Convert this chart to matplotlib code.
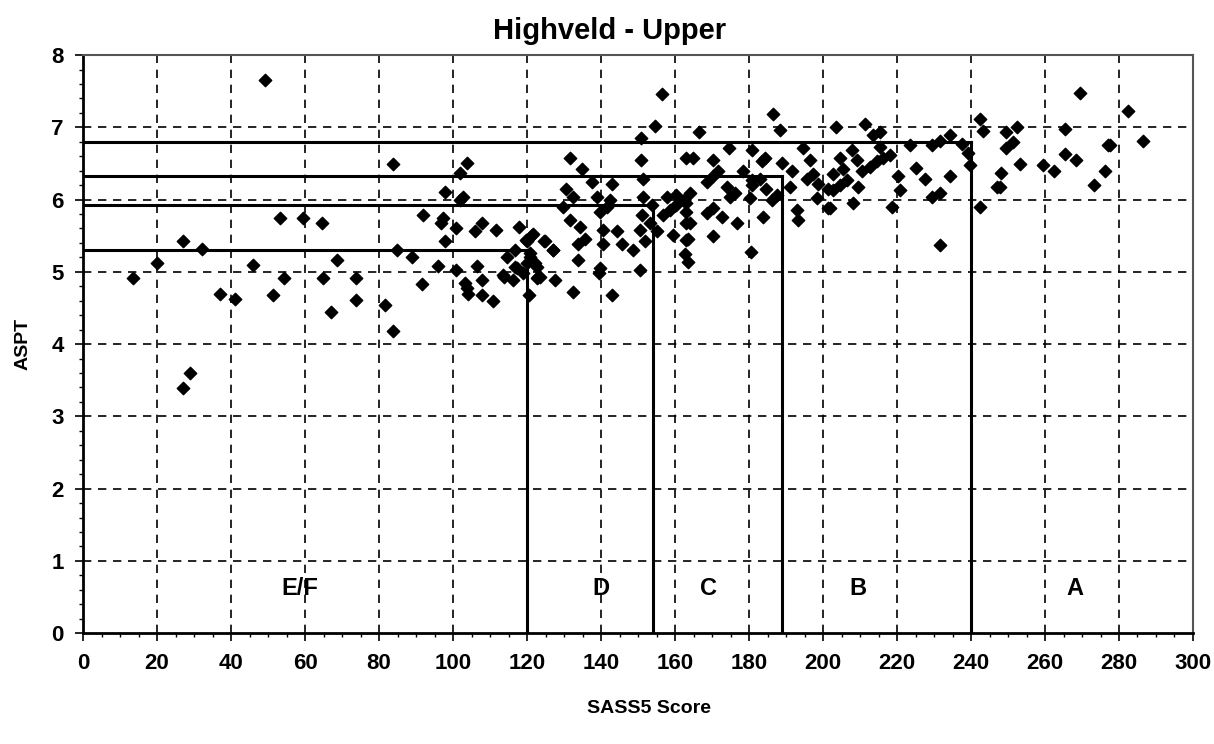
import numpy as np
import matplotlib.pyplot as plt
from matplotlib.ticker import MultipleLocator

plt.rcParams['font.family'] = ['Liberation Sans', 'DejaVu Sans']

# SASS5 score / ASPT pairs
sass = [13.6, 19.9, 27.1, 32.1, 27.1, 28.8, 37.0, 41.1, 46.0, 49.2, 51.3, 53.2, 54.3, 59.4,
        64.5, 64.8, 66.9, 68.6, 73.8, 73.8, 81.6, 83.7, 83.7, 84.8, 88.8, 91.8, 91.5, 96.0,
        97.4, 97.8, 96.8, 97.8, 100.8, 100.8, 101.9, 101.9, 102.8, 103.7, 103.2, 103.7, 104.1,
        105.9, 106.6, 107.7, 107.7, 107.7, 110.9, 111.6, 113.6, 113.9, 114.5, 116.3, 116.8,
        116.8, 117.2, 117.7, 119.0, 119.7, 119.9, 119.9, 120.6, 120.8, 120.8, 121.3, 121.7,
        122.2, 122.6, 122.6, 123.1, 123.5, 124.6, 124.9, 126.9, 127.1, 127.6, 129.8, 130.5,
        131.6, 131.6, 132.5, 132.5, 133.9, 133.9, 134.3, 134.8, 135.7, 137.5, 138.8, 139.5,
        139.7, 139.7, 140.6, 140.6, 141.5, 142.4, 142.9, 142.9, 144.4, 145.6, 148.7, 150.5,
        150.5, 150.7, 150.7, 151.0, 151.4, 151.4, 151.9, 153.2, 153.7, 154.6, 155.0, 156.6,
        156.8, 157.7, 158.6, 159.5, 160.4, 160.4, 162.3, 162.7, 163.0, 163.1, 163.1, 163.1,
        163.1, 163.6, 163.6, 164.1, 164.1, 164.8, 166.6, 168.6, 168.6, 170.4, 170.4, 170.4,
        170.4, 171.7, 172.6, 174.0, 174.7, 174.9, 176.2, 176.7, 178.5, 180.3, 180.5, 180.7,
        180.7, 180.7, 183.0, 183.4, 183.9, 184.3, 184.6, 186.1, 186.6, 187.5, 188.4, 188.8,
        191.1, 191.5, 192.9, 193.3, 194.5, 195.6, 196.5, 197.4, 198.3, 198.7, 201.4, 201.4,
        201.9, 202.8, 202.8, 203.5, 204.6, 204.6, 205.5, 206.4, 207.7, 208.2, 209.1, 209.5,
        210.5, 211.4, 212.6, 213.6, 214.5, 215.4, 215.4, 216.3, 218.1, 218.6, 220.3, 220.8,
        223.5, 225.1, 227.6, 229.4, 229.4, 231.6, 231.6, 231.6, 234.3, 234.3, 237.5, 239.3,
        239.7, 242.4, 242.4, 243.3, 246.9, 247.8, 248.0, 249.5, 249.5, 251.4, 252.3, 253.2,
        259.4, 262.3, 265.4, 265.4, 268.4, 269.5, 273.3, 276.2, 277.0, 277.6, 282.5, 286.4]
aspt = [4.91, 5.12, 5.42, 5.32, 3.39, 3.60, 4.70, 4.63, 5.09, 7.66, 4.68, 5.74, 4.91, 5.74,
        5.67, 4.91, 4.45, 5.17, 4.91, 4.61, 4.54, 6.49, 4.18, 5.30, 5.21, 5.79, 4.83, 5.08,
        5.74, 6.11, 5.67, 5.42, 5.60, 5.02, 6.37, 5.99, 6.03, 6.50, 4.84, 4.78, 4.70,
        5.56, 5.08, 5.67, 4.89, 4.68, 4.60, 5.58, 4.96, 4.93, 5.21, 4.89, 5.30,
        5.07, 5.05, 5.62, 4.98, 5.44, 5.12, 5.42, 4.68, 5.26, 5.21, 5.51, 5.53,
        5.12, 5.07, 4.91, 4.93, 4.93, 5.42, 5.42, 5.30, 5.30, 4.89, 5.90, 6.15,
        6.58, 5.72, 6.03, 4.72, 5.39, 5.16, 5.62, 6.42, 5.46, 6.25, 6.03, 4.99,
        5.83, 5.05, 5.58, 5.39, 5.90, 5.99, 6.22, 4.68, 5.56, 5.39, 5.30, 5.58,
        5.02, 6.85, 6.55, 5.79, 6.29, 6.04, 5.42, 5.67, 5.92, 7.02, 5.56, 7.46,
        5.79, 6.04, 5.86, 5.51, 5.92, 6.06, 5.99, 5.25, 5.83, 5.67, 5.44, 5.95,
        6.57, 5.45, 5.13, 6.09, 5.67, 6.58, 6.94, 6.25, 5.81, 6.55, 6.32, 5.88,
        5.49, 6.40, 5.76, 6.18, 6.71, 6.04, 6.09, 5.68, 6.40, 6.02, 5.28, 6.69,
        6.27, 6.20, 6.29, 6.53, 5.76, 6.57, 6.15, 5.99, 7.18, 6.06, 6.96, 6.50,
        6.18, 6.39, 5.85, 5.72, 6.71, 6.29, 6.55, 6.36, 6.02, 6.22, 6.15, 5.88,
        5.88, 6.36, 6.13, 7.01, 6.57, 6.20, 6.43, 6.27, 6.69, 5.95, 6.55, 6.18,
        6.39, 7.05, 6.45, 6.89, 6.53, 6.94, 6.73, 6.57, 6.62, 5.90, 6.32, 6.13,
        6.75, 6.44, 6.29, 6.75, 6.04, 6.81, 6.09, 5.37, 6.89, 6.33, 6.77, 6.64,
        6.48, 7.12, 5.90, 6.95, 6.17, 6.18, 6.37, 6.93, 6.72, 6.80, 7.00, 6.49,
        6.48, 6.40, 6.97, 6.63, 6.55, 7.47, 6.20, 6.39, 6.76, 6.75, 7.23, 6.81]

# class boundaries: (upper SASS5 score, ASPT)
bound_x = [120, 154, 189, 240]
bound_y = [5.3, 5.93, 6.32, 6.8]

classes = ['E/F', 'D', 'C', 'B', 'A']
class_x = [58.5, 140, 169, 209.5, 268]

fig = plt.figure(figsize=(12.14, 7.44), dpi=100)
ax = fig.add_axes([0.0684, 0.149, 0.9143, 0.777])

ax.set_xlim(0, 300)
ax.set_ylim(0, 8)

for x in range(20, 300, 20):
    ax.axvline(x, color='black', lw=1.2, ls=(0, (5, 4)), zorder=1)
for y in range(1, 8):
    ax.axhline(y, color='black', lw=1.2, ls=(0, (5, 4)), zorder=1)

for bx, by in zip(bound_x, bound_y):
    ax.plot([0, bx], [by, by], color='black', lw=2.2, zorder=2)
    ax.plot([bx, bx], [0, by], color='black', lw=2.2, zorder=2)

ax.scatter(sass, aspt, marker='D', s=40, color='black', zorder=3)

for lab, cx in zip(classes, class_x):
    ax.text(cx, 0.62, lab, ha='center', va='center', fontsize=17, fontweight='bold')

ax.xaxis.set_major_locator(MultipleLocator(20))
ax.xaxis.set_minor_locator(MultipleLocator(5))
ax.yaxis.set_major_locator(MultipleLocator(1))
ax.yaxis.set_minor_locator(MultipleLocator(0.2))
ax.tick_params(which='major', length=6, width=1.2, labelsize=16, pad=8)
ax.tick_params(which='minor', length=3, width=1)
for lbl in ax.get_xticklabels() + ax.get_yticklabels():
    lbl.set_fontweight('bold')

for s in ['left', 'bottom']:
    ax.spines[s].set_linewidth(2)
for s in ['top', 'right']:
    ax.spines[s].set_color('#555555')
    ax.spines[s].set_linewidth(1.5)

fig.text(0.502, 0.958, 'Highveld - Upper', ha='center', va='center',
         fontsize=21, fontweight='bold')
ax.set_xlabel('SASS5 Score', fontsize=14, fontweight='bold')
ax.xaxis.set_label_coords(0.51, -0.115)
ax.set_ylabel('ASPT', fontsize=14, fontweight='bold', labelpad=14)

fig.savefig('out.png', dpi=100)
